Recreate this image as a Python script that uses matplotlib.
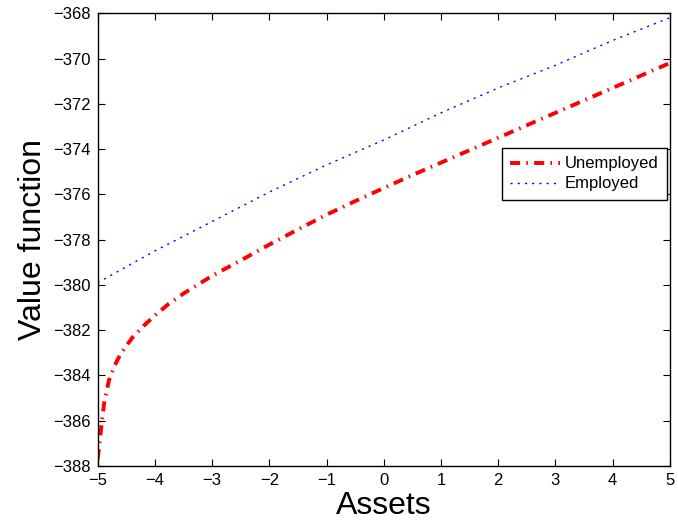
import matplotlib
matplotlib.use("Agg")
import matplotlib.pyplot as plt

plt.rcParams['font.family'] = ['Liberation Sans', 'DejaVu Sans']

# value function
assets_unemp = [-5.0, -4.98, -4.95, -4.92, -4.88, -4.8, -4.7, -4.6, -4.4, -4.2,
                -4.0, -3.75, -3.5, -3.0, -2.5, -2.0, -1.5, -1.0, -0.5, 0.0,
                0.5, 1.0, 1.5, 2.0, 2.5, 3.0, 3.5, 4.0, 4.5, 5.0]
value_unemp = [-387.7, -387.3, -386.6, -385.9, -385.1, -384.2, -383.55, -383.05, -382.35, -381.82,
               -381.35, -380.82, -380.38, -379.6, -378.92, -378.22, -377.55, -376.9, -376.3, -375.72,
               -375.15, -374.6, -374.05, -373.5, -372.95, -372.4, -371.85, -371.3, -370.75, -370.2]

assets_emp = [-5, -4, -3, -2, -1, 0, 1, 2, 3, 4, 5]
value_emp = [-379.9, -378.5, -377.2, -375.9, -374.7, -373.6, -372.4, -371.3, -370.3, -369.2, -368.2]

x_ticks = list(range(-5, 6))
y_ticks = list(range(-388, -367, 2))

fig = plt.figure(figsize=(6.78, 5.29), dpi=100)
ax = fig.add_axes([0.144, 0.119, 0.844, 0.856])

ax.plot(assets_unemp, value_unemp, color=(1, 0, 0), linewidth=2.8,
        linestyle=(0, (2.6, 1.6, 0.4, 1.6)), label='Unemployed')
ax.plot(assets_emp, value_emp, color=(0, 0, 1), linewidth=1.0,
        linestyle=(0, (1.5, 3.7)), label='Employed')

ax.set_xlim(-5, 5)
ax.set_ylim(-388, -368)
ax.set_xticks(x_ticks)
ax.set_yticks(y_ticks)
ax.tick_params(direction='in', top=True, right=True, length=5, width=0.8,
               labelsize=12, pad=5)
for s in ax.spines.values():
    s.set_linewidth(1.0)

ax.set_xlabel('Assets', fontsize=23, labelpad=2)
ax.set_ylabel('Value function', fontsize=23, labelpad=4)

leg = ax.legend(loc='upper right', bbox_to_anchor=(0.995, 0.702), borderaxespad=0,
                fontsize=12, handlelength=3.0, handletextpad=0.3, labelspacing=0.3,
                borderpad=0.5, fancybox=False, framealpha=1, edgecolor='black')
leg.get_frame().set_linewidth(1.0)

fig.savefig('out.png', dpi=100)
